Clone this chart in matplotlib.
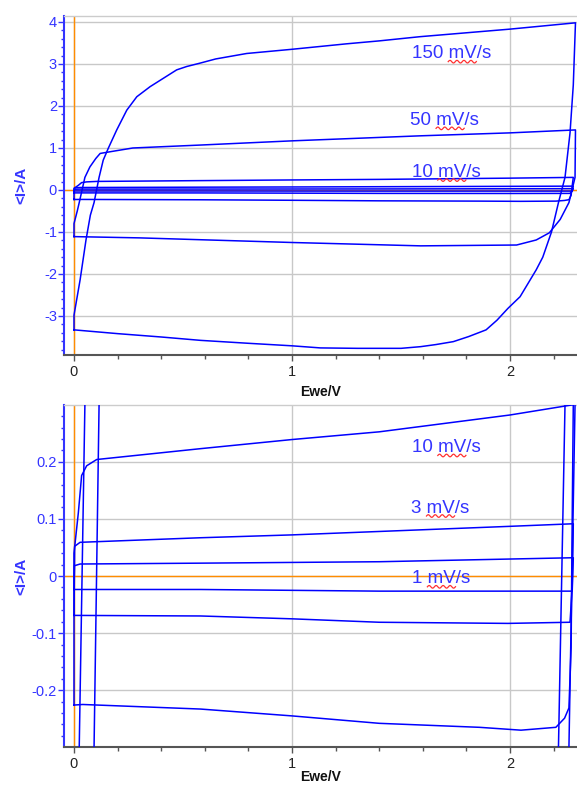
#!/usr/bin/env python3

import numpy as np
import matplotlib
matplotlib.use("Agg")
import matplotlib.pyplot as plt
import matplotlib.transforms as mtransforms
from matplotlib.ticker import MultipleLocator, FuncFormatter

plt.rcParams['font.family'] = ['Liberation Sans', 'DejaVu Sans']
plt.rcParams['axes.unicode_minus'] = False

# ------------------------------------------------------------
# Data, Ewe in V, <I> in A
# ------------------------------------------------------------

# 150 mV/s
e_150_fwd = [0.0, 0.0, 0.028, 0.055, 0.075, 0.092, 0.115, 0.134, 0.157, 0.196, 0.242, 0.288,
             0.349, 0.41, 0.471, 0.517, 0.578, 0.65, 0.792, 1.0, 1.25, 1.4, 1.587, 2.0, 2.3]
i_150_fwd = [-3.33, -2.98, -2.14, -1.19, -0.6, -0.3, 0.3, 0.71, 0.99, 1.43, 1.9, 2.22,
             2.46, 2.66, 2.86, 2.94, 3.02, 3.12, 3.25, 3.35, 3.48, 3.55, 3.65, 3.83, 3.98]
e_150_rev = [2.3, 2.29, 2.275, 2.252, 2.222, 2.19, 2.15, 2.12, 2.046, 1.99, 1.94, 1.89, 1.81,
             1.74, 1.66, 1.59, 1.5, 1.3, 1.13, 1.0, 0.8, 0.58, 0.4, 0.2, 0.0]
i_150_rev = [3.98, 2.5, 1.36, 0.3, -0.3, -1.0, -1.6, -1.9, -2.54, -2.82, -3.1, -3.33, -3.49,
             -3.61, -3.68, -3.73, -3.77, -3.77, -3.76, -3.71, -3.65, -3.58, -3.5, -3.42, -3.33]

# 50 mV/s
e_50_fwd = [0.0, 0.0, 0.015, 0.024, 0.05, 0.073, 0.1, 0.12, 0.165, 0.27, 0.58, 1.0, 1.59, 2.0, 2.3]
i_50_fwd = [-1.11, -0.8, -0.5, -0.3, 0.3, 0.55, 0.75, 0.87, 0.91, 1.0, 1.07, 1.17, 1.29, 1.36, 1.43]
e_50_rev = [2.3, 2.298, 2.27, 2.23, 2.18, 2.12, 2.03, 1.59, 1.0, 0.49, 0.3, 0.0]
i_50_rev = [1.43, 0.3, -0.3, -0.7, -1.02, -1.19, -1.31, -1.33, -1.25, -1.17, -1.14, -1.11]

# 10 mV/s
e_10_fwd = [0.0, 0.0, 0.02, 0.035, 0.058, 0.104, 0.58, 1.0, 1.4, 2.0, 2.29]
i_10_fwd = [-0.226, 0.04, 0.111, 0.176, 0.193, 0.204, 0.223, 0.239, 0.2525, 0.282, 0.30]
e_10_rev = [2.29, 2.285, 2.28, 2.27, 2.25, 2.21, 2.05, 1.86, 1.4, 1.0, 0.58, 0.04, 0.0]
i_10_rev = [0.30, 0.1, -0.125, -0.231, -0.249, -0.265, -0.27, -0.265, -0.258, -0.245, -0.233,
            -0.225, -0.226]

# 3 mV/s
e_3_fwd = [0.0, 0.003, 0.028, 0.58, 1.0, 1.4, 2.0, 2.29]
i_3_fwd = [-0.069, 0.052, 0.059, 0.067, 0.072, 0.078, 0.087, 0.0915]
e_3_rev = [2.29, 2.285, 2.275, 1.99, 1.4, 1.0, 0.58, 0.0]
i_3_rev = [0.0915, -0.02, -0.081, -0.083, -0.081, -0.075, -0.070, -0.069]

# 1 mV/s
e_1_fwd = [0.0, 0.002, 0.028, 0.58, 1.4, 2.29]
i_1_fwd = [-0.024, 0.018, 0.021, 0.0225, 0.025, 0.032]
e_1_rev = [2.29, 2.285, 1.4, 0.58, 0.0]
i_1_rev = [0.032, -0.0265, -0.0265, -0.0236, -0.0236]

top_labels = ["150 mV/s", "50 mV/s", "10 mV/s"]
bottom_labels = ["10 mV/s", "3 mV/s", "1 mV/s"]

curves = [
    (e_150_fwd + e_150_rev, i_150_fwd + i_150_rev),
    (e_50_fwd + e_50_rev, i_50_fwd + i_50_rev),
    (e_10_fwd + e_10_rev, i_10_fwd + i_10_rev),
    (e_3_fwd + e_3_rev, i_3_fwd + i_3_rev),
    (e_1_fwd + e_1_rev, i_1_fwd + i_1_rev),
]

# ------------------------------------------------------------
# Styling
# ------------------------------------------------------------

BLUE = '#0000ff'
TICK_BLUE = '#3434ff'
ORANGE = '#ff8c00'
GRID = '#c8c8c8'
TXT_SIZE = 13.5
EM = TXT_SIZE / 72.0  # inches


def style_axes(ax, ymajor, yminor):
    ax.set_xlim(-0.0459, 2.307)
    ax.xaxis.set_major_locator(MultipleLocator(1))
    ax.xaxis.set_minor_locator(MultipleLocator(0.2))
    ax.yaxis.set_major_locator(MultipleLocator(ymajor))
    ax.yaxis.set_minor_locator(MultipleLocator(yminor))
    ax.yaxis.set_major_formatter(FuncFormatter(lambda v, p: f"{round(v, 6) + 0:g}"))

    ax.grid(True, which='major', color=GRID, lw=1.0, zorder=0)
    ax.set_axisbelow(True)

    ax.spines['left'].set_color(TICK_BLUE)
    ax.spines['left'].set_linewidth(1.5)
    ax.spines['bottom'].set_color('#555555')
    ax.spines['bottom'].set_linewidth(1.5)
    ax.spines['top'].set_color('#cccccc')
    ax.spines['top'].set_linewidth(1.0)
    ax.spines['right'].set_visible(False)

    ax.tick_params(axis='y', which='major', direction='out', length=4, width=1,
                   color=TICK_BLUE, labelcolor=TICK_BLUE, labelsize=10.5, pad=1)
    ax.tick_params(axis='y', which='minor', direction='out', length=2.5, width=1,
                   color=TICK_BLUE)
    ax.tick_params(axis='x', which='major', direction='out', length=4, width=1,
                   color='#555555', labelcolor='#222222', labelsize=10.5, pad=3)
    ax.tick_params(axis='x', which='minor', direction='out', length=3, width=1,
                   color='#555555')

    ax.axvline(0, color=ORANGE, lw=1.0, zorder=1.5)
    ax.axhline(0, color=ORANGE, lw=1.0, zorder=1.5)

    ax.set_ylabel("<I>/A", color=TICK_BLUE, fontweight='bold', fontsize=11)
    ax.yaxis.set_label_coords(-0.07, 0.5)
    ax.set_xlabel("Ewe/V", color='#111111', fontweight='bold', fontsize=10)


def label(fig, ax, x, y, txt):
    # scan rate label with the red spell-check squiggle under "mV"
    ax.text(x, y, txt, color=TICK_BLUE, fontsize=TXT_SIZE, ha='left', va='baseline',
            zorder=5)
    prefix = txt.split(' ')[0]
    start = (0.556 * len(prefix) + 0.278) * EM
    end = start + 1.5 * EM
    trans = fig.dpi_scale_trans + mtransforms.ScaledTranslation(x, y, ax.transData)
    sx = np.linspace(start, end, 80)
    sy = -0.034 + 0.013 * np.sin(2 * np.pi * (sx - start) / 0.07)
    ax.plot(sx, sy, color='#ff3030', lw=0.9, transform=trans, clip_on=False, zorder=6)


# ------------------------------------------------------------
# Figure
# ------------------------------------------------------------

fig = plt.figure(figsize=(5.77, 7.87), dpi=100)

ax1 = fig.add_axes([0.1109, 0.5489, 0.8891, 0.4308])
ax2 = fig.add_axes([0.1109, 0.0508, 0.8891, 0.4346])

for e, i in curves:
    ax1.plot(e, i, color=BLUE, lw=1.1, zorder=3)
    ax2.plot(e, i, color=BLUE, lw=1.1, zorder=3)

style_axes(ax1, 1, 0.2)
ax1.set_ylim(-3.929, 4.143)
ax1.xaxis.set_label_coords(0.5, -0.0885)

style_axes(ax2, 0.1, 0.02)
ax2.set_ylim(-0.2995, 0.2995)
ax2.xaxis.set_label_coords(0.5, -0.068)

# label anchors (left edge, baseline)
for (x, y), txt in zip([(1.549, 3.136), (1.541, 1.548), (1.549, 0.317)], top_labels):
    label(fig, ax1, x, y, txt)
for (x, y), txt in zip([(1.549, 0.217), (1.545, 0.111), (1.549, -0.013)], bottom_labels):
    label(fig, ax2, x, y, txt)

fig.savefig("out.png", dpi=100)
